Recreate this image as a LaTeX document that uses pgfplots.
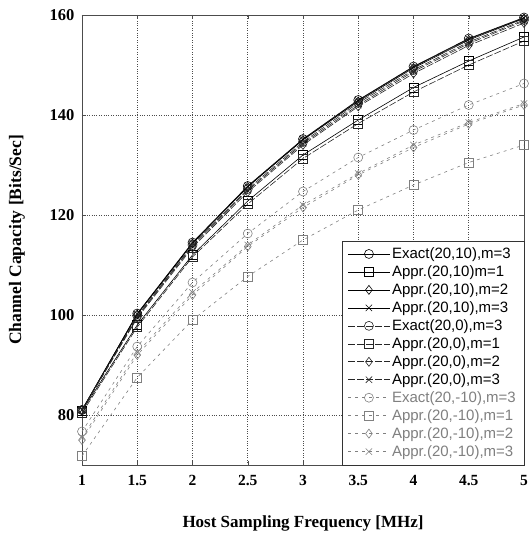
\documentclass[border=0pt]{standalone}
\usepackage{pgfplots}
\pgfplotsset{compat=1.18}
\usepackage{fontspec}
\setmainfont{Liberation Serif}
\newfontfamily\arial{Liberation Sans}
\definecolor{lg}{gray}{0.5}
\begin{document}
\begin{tikzpicture}
\path[use as bounding box] (-82pt,-70pt) rectangle (448pt,465pt);
\begin{axis}[
  at={(0pt,0pt)}, anchor=south west,
  scale only axis, width=442pt, height=450pt,
  xmin=1, xmax=5, ymin=70, ymax=160,
  xtick={1,1.5,...,5}, ytick={80,100,...,160},
  xticklabels={1,1.5,2,2.5,3,3.5,4,4.5,5},
  /pgf/number format/assume math mode=true,
  xticklabel style={font=\fontsize{15.5}{18}\selectfont\bfseries, yshift=-7pt},
  yticklabel style={font=\fontsize{16.5}{18}\selectfont\bfseries, xshift=-4pt},
  xlabel={Host Sampling Frequency [MHz]},
  ylabel={Channel Capacity [Bits/Sec]},
  every axis x label/.style={at={(axis description cs:0.5,-0.1289)}, anchor=center, font=\fontsize{17}{19}\selectfont\bfseries},
  every axis y label/.style={at={(axis description cs:-0.1471,0.5)}, anchor=center, rotate=90, font=\fontsize{17.5}{19}\selectfont\bfseries},
  axis line style={black!70},
  grid=major, major grid style={dotted, black!70, line width=0.6pt},
  tick style={black!70},
  legend cell align=left,
  legend image code/.code={\draw[mark repeat=2,mark phase=2,#1] plot coordinates {(0cm,0cm) (0.72cm,0cm) (1.45cm,0cm)};},
  legend style={at={(1,0)}, anchor=south east, font=\arial\fontsize{15}{15}\selectfont, draw=black!80, row sep=1.6pt, inner xsep=6pt, inner ysep=5pt, fill=white},
  every axis plot/.append style={mark size=4.5pt, line width=0.6pt, mark options={solid, line width=0.6pt}},
]
% (20,10) solid black
\addplot[black, mark=o] coordinates {(1,81) (1.5,100.3) (2,114.5) (2.5,125.8) (3,135.2) (3.5,143) (4,149.7) (4.5,155.3) (5,159.5)};
\addlegendentry{Exact(20,10),m=3}
\addplot[black, mark=square] coordinates {(1,80.8) (1.5,98) (2,112) (2.5,122.8) (3,132) (3.5,139) (4,145.5) (4.5,150.8) (5,155.6)};
\addlegendentry{Appr.(20,10)m=1}
\addplot[black, mark=diamond] coordinates {(1,81) (1.5,100.1) (2,114.3) (2.5,125.6) (3,135) (3.5,142.7) (4,149.4) (4.5,155) (5,159.3)};
\addlegendentry{Appr.(20,10),m=2}
\addplot[black, mark=x] coordinates {(1,81) (1.5,100.2) (2,114.4) (2.5,125.7) (3,135.1) (3.5,142.9) (4,149.6) (4.5,155.2) (5,159.4)};
\addlegendentry{Appr.(20,10),m=3}
% (20,0) long dash dark
\addplot[black!85, dash pattern=on 7pt off 2pt, mark=o] coordinates {(1,81) (1.5,99.8) (2,114) (2.5,125.2) (3,134.6) (3.5,142.4) (4,149) (4.5,154.6) (5,159)};
\addlegendentry{Exact(20,0),m=3}
\addplot[black!85, dash pattern=on 7pt off 2pt, mark=square] coordinates {(1,80.4) (1.5,97.6) (2,111.6) (2.5,122.2) (3,131.3) (3.5,138.3) (4,144.6) (4.5,150) (5,154.8)};
\addlegendentry{Appr.(20,0),m=1}
\addplot[black!85, dash pattern=on 7pt off 2pt, mark=diamond] coordinates {(1,80.9) (1.5,99.4) (2,113.5) (2.5,124.6) (3,134) (3.5,141.7) (4,148.3) (4.5,153.9) (5,158.4)};
\addlegendentry{Appr.(20,0),m=2}
\addplot[black!85, dash pattern=on 7pt off 2pt, mark=x] coordinates {(1,81) (1.5,99.6) (2,113.8) (2.5,124.9) (3,134.3) (3.5,142) (4,148.7) (4.5,154.3) (5,158.8)};
\addlegendentry{Appr.(20,0),m=3}
% (20,-10) gray dashed
\addplot[lg, dash pattern=on 3pt off 4pt, mark=o] coordinates {(1,76.7) (1.5,93.7) (2,106.5) (2.5,116.3) (3,124.7) (3.5,131.5) (4,137) (4.5,142) (5,146.3)};
\addlegendentry{\textcolor{lg}{Exact(20,-10),m=3}}
\addplot[lg, dash pattern=on 3pt off 4pt, mark=square] coordinates {(1,71.8) (1.5,87.5) (2,99) (2.5,107.7) (3,115) (3.5,121) (4,126) (4.5,130.5) (5,134)};
\addlegendentry{\textcolor{lg}{Appr.(20,-10),m=1}}
\addplot[lg, dash pattern=on 3pt off 4pt, mark=diamond] coordinates {(1,75) (1.5,92) (2,104) (2.5,113.7) (3,121.5) (3.5,128) (4,133.5) (4.5,138.2) (5,142)};
\addlegendentry{\textcolor{lg}{Appr.(20,-10),m=2}}
\addplot[lg, dash pattern=on 3pt off 4pt, mark=x] coordinates {(1,75.5) (1.5,92.5) (2,104.5) (2.5,114) (3,122) (3.5,128.3) (4,134) (4.5,138.5) (5,142.3)};
\addlegendentry{\textcolor{lg}{Appr.(20,-10),m=3}}
\end{axis}
\end{tikzpicture}
\end{document}
